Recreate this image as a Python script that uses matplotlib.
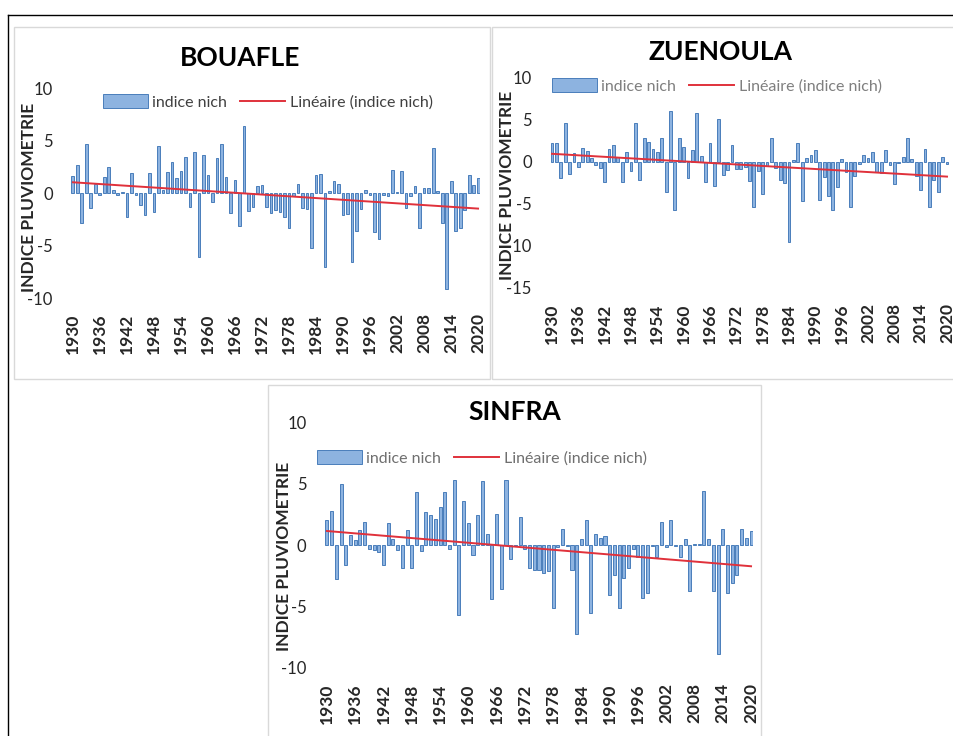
import numpy as np
import matplotlib
matplotlib.use('Agg')
import matplotlib.pyplot as plt
from matplotlib.patches import Patch, Rectangle
from matplotlib.lines import Line2D

plt.rcParams['font.family'] = ['Lato', 'DejaVu Sans']
plt.rcParams['axes.unicode_minus'] = False

years = list(range(1930, 2021))
tick_years = list(range(1930, 2021, 6))

bouafle = [1.6, 2.7, -2.9, 4.7, -1.4, 0.9, -0.2, 1.5, 2.5, 0.3,
           -0.2, 0.1, -2.3, 1.9, -0.2, -1.1, -2.1, 1.9, -1.8, 4.5,
           0.3, 2.0, 3.0, 1.4, 2.1, 3.4, -1.3, 3.9, -6.1, 3.6,
           1.7, -0.9, 3.3, 4.7, 1.5, -1.9, 1.2, -3.1, 6.4, -1.7,
           -1.3, 0.7, 0.8, -1.3, -1.9, -1.6, -1.8, -2.3, -3.3, -0.3,
           0.9, -1.4, -1.5, -5.2, 1.7, 1.8, -7.0, 0.2, 1.1, 0.9,
           -2.1, -2.0, -6.6, -3.6, -1.5, 0.3, -0.2, -3.7, -4.4, -0.2,
           -0.3, 2.2, 0.1, 2.1, -1.4, -0.3, 0.7, -3.3, 0.5, 0.5,
           4.3, 0.2, -2.9, -9.1, 1.1, -3.6, -3.3, -1.6, 1.7, 0.8,
           1.4]

zuenoula = [2.3, 2.3, -1.9, 4.6, -1.4, 1.1, -0.6, 1.7, 1.3, 0.5,
            -0.4, -0.7, -2.4, 1.6, 2.0, 0.6, -2.4, 1.2, -1.1, 4.6,
            -2.2, 2.8, 2.4, 1.6, 1.2, 2.9, -3.6, 6.1, -5.7, 2.9,
            1.8, -1.9, 1.4, 5.8, 0.7, -2.4, 2.3, -2.9, 5.1, -1.5,
            -1.0, 2.0, -0.8, -0.8, -0.6, -2.3, -5.3, -1.1, -3.8, -0.5,
            2.9, -0.7, -2.2, -2.5, -9.5, 0.2, 2.3, -4.6, 0.5, 0.8,
            1.4, -4.5, -1.8, -4.0, -5.7, -3.0, 0.4, -1.2, -5.3, -1.7,
            -0.2, 0.8, 0.5, 1.2, -1.2, -1.3, 1.4, -0.3, -2.6, -0.1,
            0.6, 2.9, 0.3, -1.7, -3.3, 1.6, -5.3, -2.1, -3.6, 0.6,
            -0.2]

sinfra = [2.0, 2.8, -2.8, 5.0, -1.6, 0.8, 0.4, 1.2, 1.9, -0.3,
          -0.4, -0.6, -1.6, 1.8, 0.5, -0.4, -1.9, 1.2, -1.9, 4.3,
          -0.5, 2.7, 2.4, 2.1, 3.1, 4.3, -0.3, 5.3, -5.7, 3.6,
          1.8, -0.8, 2.4, 5.2, 0.9, -4.4, 2.5, -3.6, 5.3, -1.1,
          -0.1, 2.3, -0.3, -1.9, -2.0, -2.0, -2.3, -2.1, -5.1, -0.2,
          1.3, -0.1, -2.0, -7.2, 0.5, 2.0, -5.5, 0.9, 0.6, 0.7,
          -4.1, -2.4, -5.1, -2.7, -1.9, -0.3, -1.0, -4.3, -3.9, -0.1,
          -1.0, 1.9, -0.2, 2.0, -0.1, -1.0, 0.5, -3.7, 0.1, 0.1,
          4.4, 0.5, -3.7, -8.9, 1.3, -3.9, -3.1, -2.4, 1.3, 0.6,
          1.1]

BAR_FACE = '#8db3e0'
BAR_EDGE = '#4a7ebb'
TREND = '#e0313b'
W, H = 954, 736


def box(fig, x0, y0, x1, y1, color='#d9d9d9'):
    # pixel coords from the top-left corner
    fig.add_artist(Rectangle((x0 / W, 1 - y1 / H), (x1 - x0) / W, (y1 - y0) / H,
                             transform=fig.transFigure, fill=False, edgecolor=color, lw=1))


def panel(fig, rect, values, title, title_xy, legend_xy, ylim, yticks, ylabel_xy, legend_color):
    ax = fig.add_axes(rect)
    x = np.arange(len(values))
    ax.bar(x, values, width=0.65, color=BAR_FACE, edgecolor=BAR_EDGE, linewidth=0.7)
    k, b = np.polyfit(x, values, 1)
    ax.plot(x, k * x + b, color=TREND, linewidth=1.4)
    ax.set_xlim(-0.5, len(values) - 0.5)
    ax.set_ylim(ylim)
    ax.set_yticks(yticks)
    ax.set_xticks([years.index(y) for y in tick_years])
    ax.set_xticklabels([str(y) for y in tick_years], rotation=90, fontsize=12.5,
                       fontweight='bold', color='#262626')
    ax.tick_params(axis='x', length=0, pad=11)
    ax.tick_params(axis='y', length=0, pad=13, labelsize=12, labelcolor='#262626')
    for s in ax.spines.values():
        s.set_visible(False)
    ax.set_ylabel('INDICE PLUVIOMETRIE', fontsize=12.5, fontweight='bold', color='#262626')
    ax.yaxis.set_label_coords(*ylabel_xy)
    fig.text(title_xy[0] / W, 1 - title_xy[1] / H, title, ha='center', va='center',
             fontsize=19, fontweight='bold')
    handles = [Patch(facecolor=BAR_FACE, edgecolor=BAR_EDGE, linewidth=0.7),
               Line2D([], [], color=TREND, linewidth=1.4)]
    fig.legend(handles, ['indice nich', 'Linéaire (indice nich)'], loc='center left',
               bbox_to_anchor=(legend_xy[0] / W, 1 - legend_xy[1] / H), ncol=2, frameon=False,
               fontsize=11.5, handlelength=2.8, handleheight=0.9, handletextpad=0.3,
               columnspacing=0.8, borderpad=0, labelcolor=legend_color)
    return ax


fig = plt.figure(figsize=(W / 100, H / 100), dpi=100)

# outer frame (top and left only visible)
fig.add_artist(Line2D([8 / W, 1], [1 - 15 / H, 1 - 15 / H], transform=fig.transFigure, color='black', lw=1))
fig.add_artist(Line2D([8 / W, 8 / W], [0, 1 - 15 / H], transform=fig.transFigure, color='black', lw=1))
box(fig, 14, 27, 490, 379)
box(fig, 492, 27, 960, 379)
box(fig, 268, 385, 761, 740)

panel(fig, [70.7 / W, 1 - 298 / H, 409.6 / W, 210 / H], bouafle, 'BOUAFLE',
      (240, 58), (95, 102), (-10, 10), [-10, -5, 0, 5, 10], (-0.083, 0.48), '#404040')
panel(fig, [549.8 / W, 1 - 288 / H, 399.4 / W, 210 / H], zuenoula, 'ZUENOULA',
      (721, 52), (544, 86), (-15, 10), [-15, -10, -5, 0, 5, 10], (-0.087, 0.49), '#7f7f7f')
panel(fig, [324.6 / W, 1 - 668 / H, 428.8 / W, 246 / H], sinfra, 'SINFRA',
      (515, 412), (309, 458), (-10, 10), [-10, -5, 0, 5, 10], (-0.077, 0.455), '#6f6f6f')

fig.savefig('out.png', dpi=100)
